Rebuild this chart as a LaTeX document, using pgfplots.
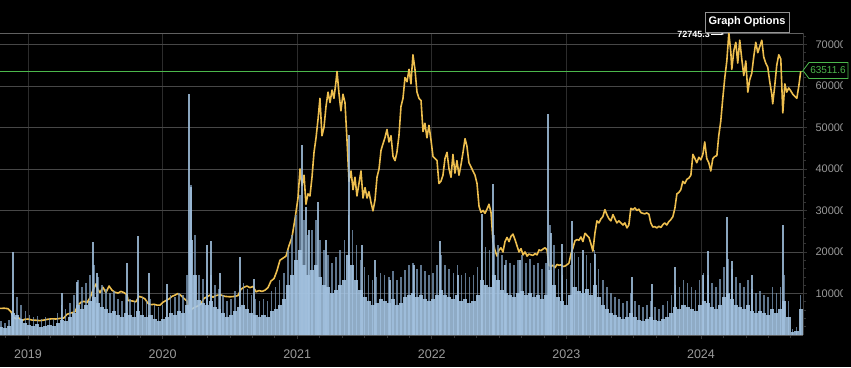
\documentclass[border=0pt]{standalone}
\usepackage{pgfplots}
\pgfplotsset{compat=1.18}
\usepackage{pgfplotstable}
\usetikzlibrary{arrows.meta}
\usepackage{fontspec}
\setmainfont{Liberation Sans}
\definecolor{gold}{HTML}{EDBE4E}
\definecolor{vlight}{HTML}{A9C9E8}
\definecolor{vmid}{HTML}{7E9DBD}
\definecolor{vspike}{HTML}{A3C2E0}
\definecolor{gridc}{HTML}{474747}
\definecolor{vgridc}{HTML}{2C2C2C}
\definecolor{tickc}{HTML}{9A9A9A}
\definecolor{greenl}{HTML}{4CB84C}

\pgfplotstableread{
year price
2018.792 6400
2018.822 6450
2018.851 6350
2018.874 5600
2018.889 4400
2018.911 3900
2018.933 4100
2018.955 3500
2018.978 3800
2019.000 3850
2019.030 3600
2019.059 3550
2019.089 3450
2019.119 3600
2019.149 3800
2019.178 3900
2019.208 3850
2019.238 4000
2019.267 4100
2019.290 5000
2019.319 5300
2019.349 5600
2019.371 7200
2019.394 7900
2019.416 8100
2019.438 7800
2019.461 9000
2019.483 10800
2019.505 12300
2019.520 11000
2019.535 10200
2019.557 11500
2019.579 10200
2019.602 11800
2019.624 10800
2019.646 10300
2019.669 10100
2019.691 10500
2019.713 10200
2019.736 9700
2019.743 8300
2019.773 8200
2019.802 8000
2019.825 9300
2019.847 9100
2019.869 8700
2019.892 7600
2019.914 7300
2019.936 7400
2019.958 7200
2019.981 7200
2020.003 7900
2020.025 8300
2020.048 8700
2020.070 9300
2020.092 9600
2020.114 10000
2020.137 9500
2020.159 8800
2020.181 8200
2020.196 5300
2020.218 6300
2020.241 6700
2020.263 7000
2020.285 7500
2020.307 8800
2020.330 9200
2020.352 9600
2020.374 9100
2020.396 9500
2020.426 9700
2020.464 9300
2020.501 9200
2020.538 9300
2020.560 9500
2020.582 11000
2020.605 11500
2020.627 11800
2020.649 11400
2020.672 11700
2020.694 10400
2020.716 10700
2020.739 10500
2020.761 10800
2020.783 11400
2020.805 13000
2020.828 13600
2020.850 15500
2020.872 18000
2020.894 18500
2020.917 19000
2020.939 21500
2020.961 23500
2020.984 28000
2021.006 33000
2021.021 40000
2021.036 36000
2021.051 38500
2021.065 31500
2021.080 34000
2021.095 33500
2021.110 38000
2021.125 44000
2021.140 47500
2021.155 52000
2021.169 57000
2021.184 48000
2021.199 50000
2021.214 55000
2021.229 58500
2021.244 56000
2021.259 59000
2021.273 57000
2021.288 61000
2021.296 63500
2021.311 58000
2021.325 54000
2021.340 58000
2021.355 56000
2021.370 47000
2021.385 37000
2021.400 39500
2021.415 35000
2021.429 38000
2021.444 33500
2021.459 36500
2021.474 39500
2021.489 33000
2021.504 35500
2021.519 33000
2021.533 34500
2021.548 32000
2021.563 29900
2021.578 32500
2021.593 38000
2021.608 40000
2021.623 44500
2021.637 46000
2021.652 47500
2021.667 49500
2021.682 46500
2021.697 48000
2021.712 43000
2021.727 42000
2021.741 44000
2021.756 48000
2021.771 55000
2021.786 57000
2021.801 62000
2021.816 61000
2021.831 64000
2021.845 60500
2021.860 67500
2021.875 64000
2021.890 58500
2021.905 57000
2021.920 56500
2021.935 49000
2021.949 51000
2021.964 47500
2021.979 50500
2021.994 47000
2022.009 43000
2022.024 42500
2022.039 42000
2022.053 36500
2022.068 37000
2022.083 38500
2022.098 42500
2022.113 44000
2022.128 40000
2022.143 38000
2022.157 43500
2022.172 39000
2022.187 42000
2022.202 38500
2022.217 41000
2022.232 44000
2022.247 47300
2022.261 45500
2022.276 41500
2022.291 40500
2022.306 39500
2022.321 38500
2022.336 36500
2022.351 31000
2022.366 29500
2022.381 30000
2022.395 29300
2022.410 30300
2022.425 31500
2022.440 29500
2022.455 22500
2022.470 20300
2022.485 19000
2022.500 20500
2022.514 21000
2022.529 20000
2022.544 22500
2022.559 23500
2022.574 22500
2022.589 23800
2022.603 24300
2022.618 23000
2022.633 21500
2022.648 20000
2022.663 20800
2022.678 19300
2022.693 20000
2022.708 19000
2022.722 19500
2022.737 19300
2022.752 19200
2022.767 19600
2022.782 19300
2022.797 20500
2022.811 20300
2022.826 20700
2022.841 21000
2022.856 20500
2022.871 16800
2022.886 16500
2022.900 16800
2022.915 16200
2022.930 17000
2022.945 16800
2022.960 16900
2022.975 16500
2022.990 16600
2023.004 16900
2023.019 17300
2023.034 19500
2023.049 21000
2023.064 22700
2023.079 23000
2023.093 22800
2023.108 23600
2023.123 22500
2023.138 24500
2023.153 24000
2023.168 23500
2023.182 22000
2023.197 20200
2023.212 24500
2023.227 27500
2023.242 27000
2023.257 28000
2023.271 28500
2023.286 30200
2023.301 29000
2023.316 28000
2023.331 27500
2023.346 29000
2023.360 28000
2023.375 27000
2023.390 27500
2023.405 27000
2023.420 26500
2023.435 27000
2023.450 25800
2023.464 26500
2023.479 30500
2023.494 30200
2023.509 30600
2023.524 30000
2023.539 30300
2023.553 29500
2023.568 29300
2023.583 29200
2023.598 29400
2023.613 29100
2023.627 27000
2023.642 26000
2023.657 26100
2023.672 25800
2023.687 26200
2023.702 25900
2023.717 26600
2023.731 27000
2023.746 26500
2023.761 27300
2023.776 27800
2023.791 28500
2023.806 30500
2023.821 34000
2023.835 34300
2023.850 35000
2023.865 37000
2023.880 36500
2023.895 37500
2023.910 37800
2023.925 38500
2023.940 43500
2023.955 42500
2023.969 41500
2023.984 42800
2023.999 42200
2024.014 43500
2024.028 46500
2024.043 42500
2024.058 41500
2024.073 39500
2024.088 42500
2024.103 43000
2024.118 43200
2024.132 48000
2024.147 51500
2024.162 57000
2024.177 62000
2024.192 66000
2024.207 72745.3
2024.222 68000
2024.229 64000
2024.244 68500
2024.259 70500
2024.273 65500
2024.288 71000
2024.303 66500
2024.318 62500
2024.333 66000
2024.348 58500
2024.362 61500
2024.377 63000
2024.392 67000
2024.407 70500
2024.422 68000
2024.437 69500
2024.452 71000
2024.466 67000
2024.481 65500
2024.496 64500
2024.511 61000
2024.526 58000
2024.533 55700
2024.548 60000
2024.563 65000
2024.578 67500
2024.593 66500
2024.608 53500
2024.623 60500
2024.637 58500
2024.652 59500
2024.667 58800
2024.682 58000
2024.697 57500
2024.712 57000
2024.727 60000
2024.741 63511.6
}\pricedata

\pgfplotstableread{
year base upper
2018.80 8 14
2018.83 7 12
2018.86 9 15
2018.89 22 45
2018.92 20 38
2018.95 16 30
2018.98 12 24
2019.01 10 20
2019.04 9 18
2019.07 11 19
2019.10 8 16
2019.13 9 18
2019.16 10 17
2019.19 9 16
2019.22 12 22
2019.25 15 30
2019.28 14 26
2019.31 18 32
2019.34 22 40
2019.37 30 55
2019.40 26 48
2019.43 30 52
2019.46 34 60
2019.49 38 70
2019.52 32 58
2019.55 28 50
2019.58 26 46
2019.61 22 42
2019.64 24 44
2019.67 20 36
2019.70 18 34
2019.73 22 40
2019.76 20 36
2019.79 18 34
2019.82 24 44
2019.85 20 38
2019.88 18 34
2019.91 20 36
2019.94 16 30
2019.97 14 28
2020.00 16 30
2020.03 18 34
2020.06 22 40
2020.09 20 38
2020.12 24 42
2020.15 22 40
2020.18 30 60
2020.21 95 150
2020.24 60 100
2020.27 35 60
2020.30 32 56
2020.33 30 55
2020.36 34 60
2020.39 28 50
2020.42 26 46
2020.45 22 40
2020.48 18 34
2020.51 20 36
2020.54 24 44
2020.57 28 50
2020.60 30 52
2020.63 26 46
2020.66 22 40
2020.69 20 36
2020.72 18 34
2020.75 20 36
2020.78 18 34
2020.81 24 44
2020.84 26 48
2020.87 30 55
2020.90 36 62
2020.93 50 85
2020.96 60 100
2020.99 75 120
2021.02 85 140
2021.05 70 115
2021.08 60 100
2021.11 65 105
2021.14 70 115
2021.17 58 95
2021.20 50 85
2021.23 48 80
2021.26 42 72
2021.29 45 78
2021.32 50 85
2021.35 55 95
2021.38 80 120
2021.41 70 105
2021.44 55 90
2021.47 45 75
2021.50 38 68
2021.53 34 60
2021.56 30 55
2021.59 32 58
2021.62 36 62
2021.65 34 60
2021.68 32 58
2021.71 36 64
2021.74 30 55
2021.77 32 58
2021.80 38 65
2021.83 40 70
2021.86 42 72
2021.89 38 66
2021.92 40 70
2021.95 36 64
2021.98 34 60
2022.01 36 62
2022.04 40 70
2022.07 45 80
2022.10 40 70
2022.13 38 66
2022.16 36 62
2022.19 40 70
2022.22 34 60
2022.25 36 62
2022.28 32 58
2022.31 34 60
2022.34 40 68
2022.37 55 95
2022.40 50 88
2022.43 48 85
2022.46 60 100
2022.49 55 90
2022.52 45 80
2022.55 42 75
2022.58 40 72
2022.61 38 70
2022.64 42 75
2022.67 44 80
2022.70 40 72
2022.73 42 76
2022.76 38 70
2022.79 40 72
2022.82 36 66
2022.85 40 72
2022.88 65 110
2022.91 50 90
2022.94 38 66
2022.97 34 60
2023.00 30 56
2023.03 40 70
2023.06 48 82
2023.09 44 78
2023.12 42 75
2023.15 46 80
2023.18 40 72
2023.21 50 85
2023.24 38 66
2023.27 30 55
2023.30 26 48
2023.33 22 42
2023.36 20 38
2023.39 18 36
2023.42 16 32
2023.45 18 34
2023.48 22 42
2023.51 18 34
2023.54 15 30
2023.57 14 28
2023.60 16 30
2023.63 18 34
2023.66 15 28
2023.69 14 26
2023.72 16 30
2023.75 18 34
2023.78 22 40
2023.81 28 50
2023.84 26 48
2023.87 30 55
2023.90 28 52
2023.93 26 48
2023.96 24 45
2023.99 30 55
2024.02 34 62
2024.05 32 60
2024.08 28 52
2024.11 26 48
2024.14 30 56
2024.17 38 68
2024.20 42 76
2024.23 36 66
2024.26 30 58
2024.29 28 52
2024.32 26 48
2024.35 30 55
2024.38 24 46
2024.41 22 42
2024.44 24 44
2024.47 22 40
2024.50 20 38
2024.53 26 48
2024.56 22 42
2024.59 26 48
2024.62 34 60
2024.65 18 34
2024.68 3 6
2024.71 4 8
2024.74 26 40
}\voldata

\pgfplotstableread{
year vol
2018.889 83
2019.253 42
2019.364 53
2019.483 93
2019.513 62
2019.736 72
2019.817 99
2019.899 62
2020.033 51
2020.196 241
2020.211 148
2020.330 90
2020.360 94
2020.426 62
2020.575 78
2020.679 56
2021.036 190
2021.065 128
2021.088 105
2021.155 133
2021.214 95
2021.385 200
2021.481 90
2021.578 75
2021.689 55
2021.868 70
2022.061 94
2022.195 60
2022.373 121
2022.455 151
2022.544 70
2022.655 75
2022.863 221
2022.886 102
2022.967 91
2023.042 114
2023.123 85
2023.212 81
2023.487 58
2023.636 51
2023.807 68
2024.015 60
2024.052 84
2024.193 118
2024.230 74
2024.379 60
2024.609 110
}\spikedata

\pgfplotsset{common/.style={at={(0pt,32pt)}, anchor=south west, scale only axis,
  width=803pt, height=302pt, xmin=2018.792, xmax=2024.758}}

\begin{document}
\begin{tikzpicture}
\fill[black] (0,0) rectangle (851pt,367pt);
\begin{scope}
\clip (0,0) rectangle (842pt,367pt);
% frame, grid, ticks
\begin{axis}[common, ymin=0, ymax=72745.3,
  axis x line*=bottom, axis y line*=right,
  x axis line style={-, draw=gray!70!black, line width=0.8pt},
  y axis line style={-, draw=gray!45!black, line width=0.8pt},
  xtick={2019,2020,2021,2022,2023,2024},
  xticklabels={2019,2020,2021,2022,2023,2024},
  minor xtick={2018.8333,2019.1667,2019.3333,2019.5,2019.6667,2019.8333,
    2020.1667,2020.3333,2020.5,2020.6667,2020.8333,
    2021.1667,2021.3333,2021.5,2021.6667,2021.8333,
    2022.1667,2022.3333,2022.5,2022.6667,2022.8333,
    2023.1667,2023.3333,2023.5,2023.6667,2023.8333,
    2024.1667,2024.3333,2024.5,2024.6667},
  ytick={10000,20000,30000,40000,50000,60000,70000},
  minor ytick={2000,4000,...,72000},
  scaled y ticks=false,
  /pgf/number format/1000 sep={},
  /pgf/number format/assume math mode=true,
  grid=major,
  x grid style={vgridc, line width=0.6pt},
  y grid style={gridc, line width=0.6pt},
  tick style={draw=gray!40!black, line width=0.6pt},
  tick align=outside, major tick length=4pt, minor tick length=3pt,
  xticklabel style={font=\fontsize{12.5}{14}\selectfont, text=tickc, yshift=-7pt},
  yticklabel style={font=\fontsize{11}{13}\selectfont, text=tickc, xshift=5pt},
  clip=false]
\addplot[draw=gray!75!black, line width=0.8pt] coordinates {(2018.792,72745.3) (2024.758,72745.3)};
\addplot[draw=greenl, line width=0.8pt] coordinates {(2018.792,63511.6) (2024.758,63511.6)};
\end{axis}
% price
\begin{axis}[common, ymin=0, ymax=72745.3, hide axis, clip=false]
\addplot[draw=gold, line width=1.6pt, line join=round, mark=none] table[x=year, y=price] {\pricedata};
\end{axis}
% volume (drawn over the price line, semi-transparent)
\begin{axis}[common, ymin=0, ymax=302, hide axis]
\addplot[ycomb, draw=vmid, draw opacity=0.75, line width=1.6pt, mark=none] table[x=year, y=upper] {\voldata};
\addplot[ycomb, draw=vlight, draw opacity=0.85, line width=4.1pt, mark=none] table[x=year, y=base] {\voldata};
\addplot[ycomb, draw=vspike, draw opacity=0.85, line width=1.3pt, mark=none] table[x=year, y=vol] {\spikedata};
\end{axis}
\end{scope}
\node[anchor=east, text=white, font=\bfseries\fontsize{9}{10}\selectfont, inner sep=0pt] at (710pt,333pt) {72745.3};
\draw[white, line width=0.7pt, -{Stealth[length=3pt]}] (711pt,333pt) -- (724pt,333pt);
\node[draw=gray!85, fill=black, text=white, font=\bfseries\fontsize{11}{13}\selectfont,
  minimum width=84pt, minimum height=20pt, inner sep=1pt] at (747pt,345pt) {Graph Options};
\draw[greenl, fill=black, line width=0.8pt] (803pt,296.5pt) -- (809pt,304.5pt) -- (848pt,304.5pt) -- (848pt,288.5pt) -- (809pt,288.5pt) -- cycle;
\node[text=greenl, font=\fontsize{10}{12}\selectfont, inner sep=0pt] at (828pt,296.5pt) {63511.6};
\pgfresetboundingbox
\path[use as bounding box] (0,0) rectangle (851pt,367pt);
\end{tikzpicture}
\end{document}
